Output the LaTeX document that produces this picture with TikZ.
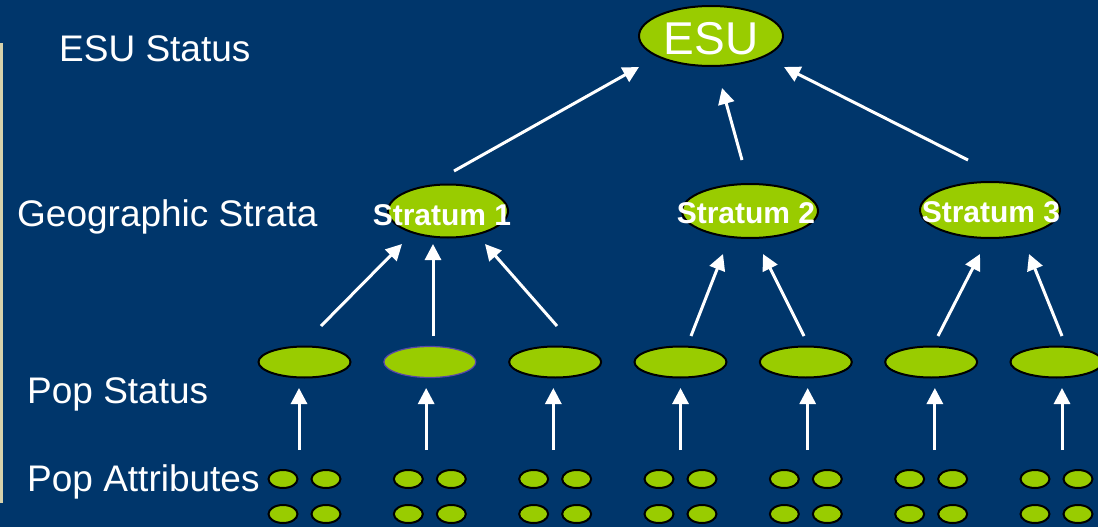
\documentclass[tikz,border=0pt]{standalone}
\usepackage{fontspec}
\setmainfont{Liberation Sans}
\usetikzlibrary{shapes.geometric,arrows.meta}

\definecolor{navy}{RGB}{0,54,107}
\definecolor{lime}{RGB}{153,204,0}
\definecolor{rim}{RGB}{90,70,170}
\definecolor{strip}{RGB}{214,210,172}

\tikzset{
  blob/.style={ellipse, draw=black, line width=2pt, fill=lime, inner sep=0pt},
  esu/.style={blob, minimum width=144pt, minimum height=60pt},
  stratum/.style={blob, minimum width=122pt, minimum height=54pt},
  popst/.style={blob, minimum width=92pt, minimum height=31pt},
  attr/.style={blob, minimum width=29pt, minimum height=18pt},
  rowlabel/.style={anchor=base west, text=white, inner sep=0pt,
    font=\fontsize{37pt}{40pt}\selectfont},
  stext/.style={anchor=base, text=white, inner sep=0pt,
    font=\fontsize{30pt}{32pt}\selectfont\bfseries},
  up/.style={draw=white, line width=3pt,
    -{Triangle[length=16pt,width=16pt]}}
}

\begin{document}
\begin{tikzpicture}[x=1pt,y=-1pt]
  % page and the thin edge strip
  \fill[navy] (0,0) rectangle (1098,527);
  \useasboundingbox (0,0) rectangle (1098,527);
  \fill[strip] (0,43) rectangle (3,503);

  % row captions
  \node[rowlabel] (lesu) at (59,62) {ESU Status};
  \node[rowlabel] (lgeo) at (17,226) {Geographic Strata};
  \node[rowlabel] (lpop) at (27,403) {Pop Status};
  \node[rowlabel] (latt) at (27,491) {Pop Attributes};

  % top level
  \node[esu] (esu) at (711,36) {};
  \node[anchor=base, text=white, inner sep=0pt,
    font=\fontsize{46pt}{48pt}\selectfont] (esut) at (711,55) {ESU};

  % geographic strata
  \node[stratum, minimum width=120pt, minimum height=53pt] (s1) at (448,211) {};
  \node[stratum, minimum width=136pt, minimum height=54pt] (s2) at (750,211) {};
  \node[stratum, minimum width=140pt, minimum height=56pt] (s3) at (990,210) {};
  \node[stext] (s1t) at (442,225) {Stratum 1};
  \node[stext] (s2t) at (746,223) {Stratum 2};
  \node[stext] (s3t) at (991,222) {Stratum 3};

  % population status and their attributes
  \foreach \i in {1,...,7}{
    \pgfmathsetmacro{\cx}{304.5+125.33*(\i-1)}
    \pgfmathsetmacro{\ax}{299+127.17*(\i-1)}
    \ifnum\i=2
      \node[popst, draw=rim, line width=1.2pt] (p\i) at (\cx,362) {};
    \else
      \node[popst] (p\i) at (\cx,362) {};
    \fi
    \node[attr] (a\i a) at (\cx-21.5,479) {};
    \node[attr] (a\i b) at (\cx+21.5,479) {};
    \node[attr] (a\i c) at (\cx-21.5,514) {};
    \node[attr] (a\i d) at (\cx+21.5,514) {};
    \coordinate (pt\i) at (\ax,450);
    \coordinate (ph\i) at (\ax,388);
    \draw[up] (pt\i) -- (ph\i);
  }

  % links from population status up to strata
  \coordinate (q1t) at (321,326);  \coordinate (q1h) at (402,244);
  \coordinate (q2t) at (433,336);  \coordinate (q2h) at (433,244);
  \coordinate (q3t) at (557,326);  \coordinate (q3h) at (485,244);
  \coordinate (q4t) at (691,336);  \coordinate (q4h) at (723,254);
  \coordinate (q5t) at (804,336);  \coordinate (q5h) at (763,254);
  \coordinate (q6t) at (938,336);  \coordinate (q6h) at (980,254);
  \coordinate (q7t) at (1062,336); \coordinate (q7h) at (1029,254);
  \foreach \k in {1,...,7}{ \draw[up] (q\k t) -- (q\k h); }

  % links from strata up to the ESU
  \coordinate (r1t) at (454,171); \coordinate (r1h) at (639,67);
  \coordinate (r2t) at (742,160); \coordinate (r2h) at (722,88);
  \coordinate (r3t) at (968,160); \coordinate (r3h) at (784,67);
  \foreach \k in {1,2,3}{ \draw[up] (r\k t) -- (r\k h); }
\end{tikzpicture}
\end{document}
